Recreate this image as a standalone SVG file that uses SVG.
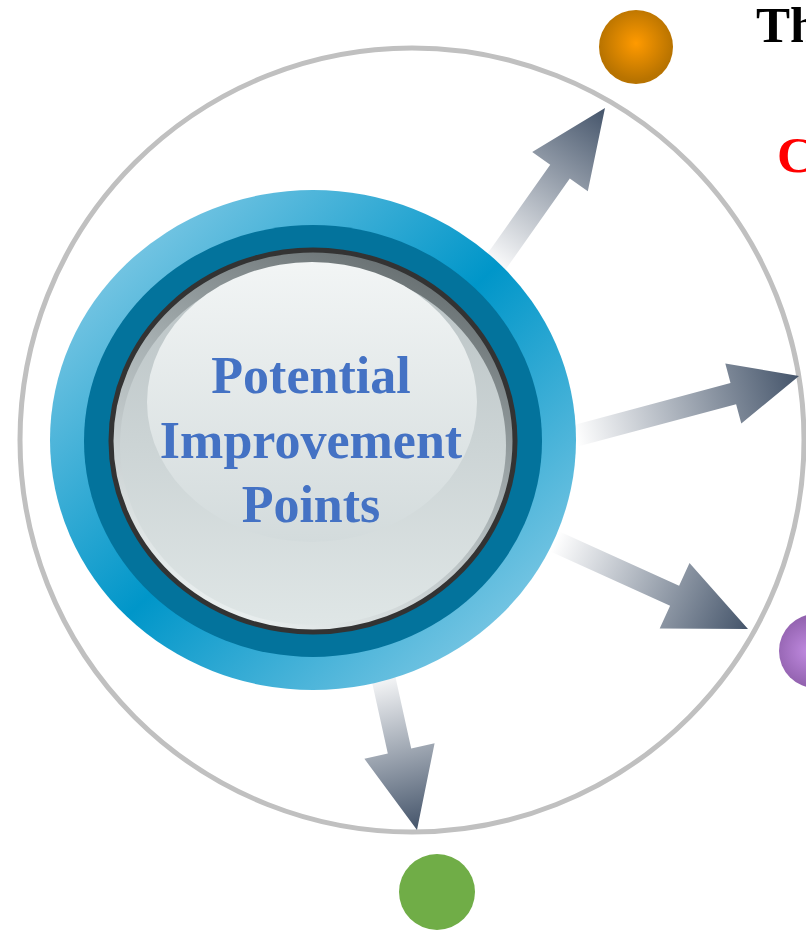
<svg xmlns="http://www.w3.org/2000/svg" width="806" height="933" viewBox="0 0 806 933">
<defs>
<style>
.lbl{font-family:"Liberation Serif","Times New Roman",serif;font-weight:bold;}
.ctr{font-size:52px;fill:#4472C4;text-anchor:middle;}
</style>
<linearGradient id="gBlue" x1="0" y1="0" x2="1" y2="1">
<stop offset="0" stop-color="#a0d6ec"/>
<stop offset="0.5" stop-color="#0096c9"/>
<stop offset="1" stop-color="#a0d6ec"/>
</linearGradient>
<linearGradient id="gRim" x1="0.8" y1="0" x2="0.3" y2="1">
<stop offset="0" stop-color="#5f6769"/>
<stop offset="0.5" stop-color="#aab3b5"/>
<stop offset="1" stop-color="#eef3f3"/>
</linearGradient>
<linearGradient id="gFace" x1="0" y1="0" x2="0" y2="1">
<stop offset="0" stop-color="#b9c2c4"/>
<stop offset="1" stop-color="#dfe6e6"/>
</linearGradient>
<linearGradient id="gHi" x1="0" y1="0" x2="0" y2="1">
<stop offset="0" stop-color="#f2f5f5"/>
<stop offset="1" stop-color="#d3dbdc"/>
</linearGradient>
<radialGradient id="gOrange" cx="0.5" cy="0.45" r="0.5">
<stop offset="0" stop-color="#ff9a00"/>
<stop offset="1" stop-color="#b87300"/>
</radialGradient>
<radialGradient id="gPurple" cx="0.4" cy="0.5" r="0.55">
<stop offset="0" stop-color="#c08ae0"/>
<stop offset="1" stop-color="#8a5ba6"/>
</radialGradient>
<linearGradient id="a1" gradientUnits="userSpaceOnUse" x1="492" y1="268" x2="605" y2="108">
<stop offset="0" stop-color="#ffffff"/><stop offset="1" stop-color="#44546a"/>
</linearGradient>
<linearGradient id="a2" gradientUnits="userSpaceOnUse" x1="575" y1="436" x2="799" y2="376">
<stop offset="0" stop-color="#ffffff"/><stop offset="1" stop-color="#44546a"/>
</linearGradient>
<linearGradient id="a3" gradientUnits="userSpaceOnUse" x1="555" y1="542" x2="748" y2="629">
<stop offset="0" stop-color="#ffffff"/><stop offset="1" stop-color="#44546a"/>
</linearGradient>
<linearGradient id="a4" gradientUnits="userSpaceOnUse" x1="379" y1="670" x2="417" y2="830">
<stop offset="0" stop-color="#ffffff"/><stop offset="1" stop-color="#44546a"/>
</linearGradient>
</defs>
<rect width="806" height="933" fill="#ffffff"/>
<circle cx="412" cy="440" r="392" fill="none" stroke="#c0c0c0" stroke-width="5"/>
<g id="connectors">
<polygon fill="url(#a1)" points="482.2,261.1 550.2,164.8 532.2,152.1 605,108 587.8,191.3 569.8,178.6 501.8,274.9"/>
<polygon fill="url(#a2)" points="557.2,429.4 730.5,383.0 725.3,363.6 799,376 741.3,423.5 736.1,404.2 562.8,450.6"/>
<polygon fill="url(#a3)" points="549.5,527.0 679.1,585.7 689.5,562.9 748,629 659.7,628.5 670.1,605.7 540.5,547.0"/>
<polygon fill="url(#a4)" points="390.7,655.6 411.2,748.4 434.6,743.2 417,830 364.4,758.8 387.8,753.6 367.3,660.8"/>
</g>
<g id="center">
<ellipse cx="313" cy="440" rx="263" ry="250" fill="url(#gBlue)"/>
<ellipse cx="313" cy="441" rx="229" ry="216" fill="#03739c"/>
<ellipse cx="313" cy="441" rx="202" ry="191" fill="url(#gRim)" stroke="#333333" stroke-width="5"/>
<ellipse cx="313" cy="445" rx="193" ry="180" fill="url(#gFace)"/>
<ellipse cx="312" cy="402" rx="165" ry="140" fill="url(#gHi)"/>
<text class="lbl ctr" x="311" y="393">Potential</text>
<text class="lbl ctr" x="311" y="458">Improvement</text>
<text class="lbl ctr" x="311" y="522">Points</text>
</g>
<g id="orange"><circle cx="636" cy="47" r="37" fill="url(#gOrange)"/></g>
<g id="purple"><circle cx="816" cy="651" r="37" fill="url(#gPurple)"/></g>
<g id="green"><circle cx="437" cy="892" r="38" fill="#70ad47"/></g>
<g id="texts">
<text class="lbl" x="756" y="42" font-size="51" fill="#000000">Th</text>
<text class="lbl" x="777" y="172" font-size="51" fill="#ff0000">C</text>
</g>
</svg>
